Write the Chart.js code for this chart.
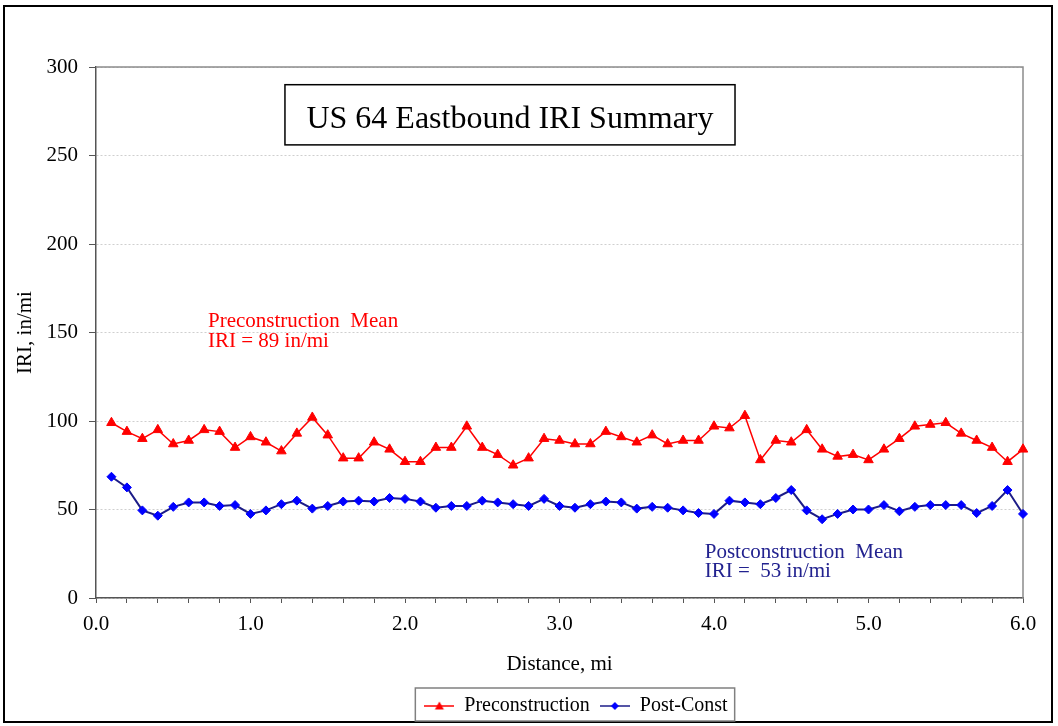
<!DOCTYPE html>
<html>
<head>
<meta charset="utf-8">
<script src="https://cdn.jsdelivr.net/npm/chart.js@4/dist/chart.umd.min.js"></script>
<style>
  html, body { margin: 0; padding: 0; background: #fff; }
</style>
</head>
<body>
<canvas id="iri_chart" width="1058" height="726"></canvas>
<script>
// distance along the section, mi
const distance = [0.1, 0.2, 0.3, 0.4, 0.5, 0.6, 0.7, 0.8, 0.9, 1.0,
                  1.1, 1.2, 1.3, 1.4, 1.5, 1.6, 1.7, 1.8, 1.9, 2.0,
                  2.1, 2.2, 2.3, 2.4, 2.5, 2.6, 2.7, 2.8, 2.9, 3.0,
                  3.1, 3.2, 3.3, 3.4, 3.5, 3.6, 3.7, 3.8, 3.9, 4.0,
                  4.1, 4.2, 4.3, 4.4, 4.5, 4.6, 4.7, 4.8, 4.9, 5.0,
                  5.1, 5.2, 5.3, 5.4, 5.5, 5.6, 5.7, 5.8, 5.9, 6.0];

// IRI, in/mi
const preconstruction = [99, 94, 90, 95, 87, 89, 95, 94, 85, 91,
                         88, 83, 93, 102, 92, 79, 79, 88, 84, 77,
                         77, 85, 85, 97, 85, 81, 75, 79, 90, 89,
                         87, 87, 94, 91, 88, 92, 87, 89, 89, 97,
                         96, 103, 78, 89, 88, 95, 84, 80, 81, 78,
                         84, 90, 97, 98, 99, 93, 89, 85, 77, 84];

const postConst = [68.5, 62.5, 49.5, 46.5, 51.5, 54, 54, 52, 52.5, 47.5,
                   49.5, 53, 55, 50.5, 52, 54.5, 55, 54.5, 56.5, 56,
                   54.5, 51, 52, 52, 55, 54, 53, 52, 56, 52,
                   51, 53, 54.5, 54, 50.5, 51.5, 51, 49.5, 48, 47.5,
                   55, 54, 53, 56.5, 61, 49.5, 44.5, 47.5, 50, 50,
                   52.5, 49, 51.5, 52.5, 52.5, 52.5, 48, 52, 61, 47.5];

const seriesNames = ['Preconstruction', 'Post-Const'];
const chartTitle = 'US 64 Eastbound IRI Summary';
const preNote = ['Preconstruction  Mean', 'IRI = 89 in/mi'];
const postNote = ['Postconstruction  Mean', 'IRI =  53 in/mi'];

const RED = '#ff0000';
const NAVY = '#1c1c88';
const BLUE = '#0000ff';
const SERIF = '"Liberation Serif", "Times New Roman", serif';

Chart.defaults.font.family = SERIF;
Chart.defaults.color = '#000';

function legendIcon(lineColor, markColor, style) {
    const c = document.createElement('canvas');
    c.width = 30;
    c.height = 14;
    const g = c.getContext('2d');
    g.strokeStyle = lineColor;
    g.lineWidth = 1.5;
    g.beginPath();
    g.moveTo(0, 7);
    g.lineTo(30, 7);
    g.stroke();
    g.fillStyle = markColor;
    g.beginPath();
    if (style === 'triangle') {
        g.moveTo(15, 2.5); g.lineTo(19.5, 10.5); g.lineTo(10.5, 10.5);
    } else {
        g.moveTo(15, 3); g.lineTo(19, 7); g.lineTo(15, 11); g.lineTo(11, 7);
    }
    g.closePath();
    g.fill();
    return c;
}

const icons = [legendIcon(RED, RED, 'triangle'), legendIcon(NAVY, BLUE, 'diamond')];

function toPoints(ys) {
    return ys.map((y, i) => ({x: distance[i], y: y}));
}

// frame, plot border, title box, notes, legend box
const decor = {
    id: 'decor',
    afterLayout(chart) {
        const lg = chart.legend;
        const dx = 576 - (lg.left + lg.right) / 2;
        lg.left += dx;
        lg.right += dx;
    },
    beforeDatasetsDraw(chart) {
        const {ctx, chartArea: a} = chart;
        ctx.save();
        ctx.strokeStyle = '#8c8c8c';
        ctx.lineWidth = 1.5;
        ctx.beginPath();
        ctx.moveTo(a.left, a.top);
        ctx.lineTo(a.right, a.top);
        ctx.lineTo(a.right, a.bottom);
        ctx.stroke();
        ctx.restore();
    },
    afterDraw(chart) {
        const {ctx, scales: {x, y}} = chart;
        ctx.save();

        // outer frame
        ctx.strokeStyle = '#000';
        ctx.lineWidth = 2;
        ctx.strokeRect(4, 6, 1048, 716);

        // title box
        const bx1 = x.getPixelForValue(1.223), bx2 = x.getPixelForValue(4.136);
        const by1 = y.getPixelForValue(290), by2 = y.getPixelForValue(256);
        ctx.fillStyle = '#fff';
        ctx.fillRect(bx1, by1, bx2 - bx1, by2 - by1);
        ctx.lineWidth = 1.5;
        ctx.strokeRect(bx1, by1, bx2 - bx1, by2 - by1);
        ctx.fillStyle = '#000';
        ctx.font = '32px ' + SERIF;
        ctx.textAlign = 'center';
        ctx.textBaseline = 'alphabetic';
        ctx.fillText(chartTitle, (bx1 + bx2) / 2, y.getPixelForValue(265.5));

        // mean notes
        ctx.textAlign = 'left';
        ctx.font = '21px ' + SERIF;
        ctx.fillStyle = RED;
        ctx.fillText(preNote[0], x.getPixelForValue(0.725), y.getPixelForValue(153));
        ctx.fillText(preNote[1], x.getPixelForValue(0.725), y.getPixelForValue(142));
        ctx.fillStyle = '#22228f';
        ctx.fillText(postNote[0], x.getPixelForValue(3.94), y.getPixelForValue(22.7));
        ctx.fillText(postNote[1], x.getPixelForValue(3.94), y.getPixelForValue(11.9));

        // legend box
        const lg = chart.legend;
        const pad = lg.options.labels.padding;
        const lw = lg.lineWidths[0];
        const start = (lg.left + pad + lg.right - lw) / 2;
        const end = start + lw - pad;
        ctx.strokeStyle = '#808080';
        ctx.lineWidth = 1.5;
        ctx.strokeRect(start - 9, 688, end - start + 16, 33);
        ctx.restore();
    }
};

new Chart(document.getElementById('iri_chart').getContext('2d'), {
    type: 'line',
    data: {
        datasets: [{
            label: seriesNames[0],
            data: toPoints(preconstruction),
            borderColor: RED,
            backgroundColor: RED,
            borderWidth: 1.5,
            pointStyle: 'triangle',
            pointRadius: 5.5,
            pointBackgroundColor: RED,
            pointBorderColor: RED,
            pointBorderWidth: 1,
            tension: 0,
            clip: false
        }, {
            label: seriesNames[1],
            data: toPoints(postConst),
            borderColor: NAVY,
            backgroundColor: BLUE,
            borderWidth: 2,
            pointStyle: 'rectRot',
            pointRadius: 4.5,
            pointBackgroundColor: BLUE,
            pointBorderColor: BLUE,
            pointBorderWidth: 1,
            tension: 0,
            clip: false
        }]
    },
    options: {
        responsive: false,
        animation: false,
        devicePixelRatio: 1,
        layout: {padding: {left: 8, right: 35, top: 67, bottom: 0}},
        plugins: {
            tooltip: {enabled: false},
            title: {display: false},
            legend: {
                position: 'bottom',
                fullSize: false,
                labels: {
                    usePointStyle: true,
                    pointStyleWidth: 30,
                    padding: 10,
                    color: '#000',
                    font: {size: 20},
                    generateLabels: function (chart) {
                        return chart.data.datasets.map(function (ds, i) {
                            return {
                                text: ds.label,
                                pointStyle: icons[i],
                                fillStyle: ds.borderColor,
                                strokeStyle: ds.borderColor,
                                lineWidth: 0,
                                fontColor: '#000',
                                hidden: false,
                                datasetIndex: i
                            };
                        });
                    }
                }
            }
        },
        scales: {
            x: {
                type: 'linear',
                min: 0,
                max: 6,
                afterFit: function (s) { s.height = 88; },
                grid: {drawOnChartArea: false, drawTicks: true, tickLength: 5, tickColor: '#555'},
                border: {color: '#555', width: 1.5},
                ticks: {
                    stepSize: 0.2,
                    maxTicksLimit: 40,
                    autoSkip: false,
                    maxRotation: 0,
                    padding: 9,
                    color: '#000',
                    font: {size: 21},
                    callback: function (v) {
                        return Math.abs(v - Math.round(v)) < 1e-6 ? v.toFixed(1) : '';
                    }
                },
                title: {display: true, text: 'Distance, mi', color: '#000', font: {size: 21}, padding: {top: 0, bottom: 9}}
            },
            y: {
                min: 0,
                max: 300,
                afterFit: function (s) { s.width = 88; },
                grid: {color: '#cfcfcf', tickColor: '#555', tickLength: 7},
                border: {color: '#555', width: 1.5, dash: [2, 2]},
                ticks: {stepSize: 50, padding: 11, color: '#000', font: {size: 21}},
                title: {display: true, text: 'IRI, in/mi', color: '#000', font: {size: 21}, padding: {top: 5, bottom: 0}}
            }
        }
    },
    plugins: [decor]
});
</script>
</body>
</html>
